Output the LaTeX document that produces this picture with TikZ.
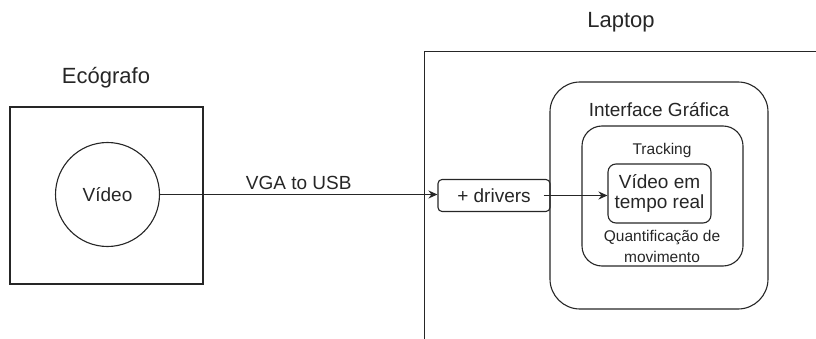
\documentclass[tikz,border=0pt]{standalone}
\usepackage{fontspec}
\setmainfont{Liberation Sans}
\usetikzlibrary{arrows.meta,positioning}
\tikzset{
  line/.style={draw=black!85, line width=1.1pt},
  bigtxt/.style={font=\fontsize{22}{26}\selectfont, text=black!85},
  midtxt/.style={font=\fontsize{19}{20}\selectfont, text=black!85, align=center},
  smalltxt/.style={font=\fontsize{15.5}{21}\selectfont, text=black!85, align=center},
  conn/.style={line, -{Stealth[length=9pt,width=8pt]}},
}
\begin{document}
\begin{tikzpicture}[x=1pt,y=-1pt]
\useasboundingbox (0,0) rectangle (816,339);
\clip (0,0) rectangle (816,339);
% Ecografo
\node[line, rectangle, minimum width=193pt, minimum height=177pt, inner sep=0pt] (eco) at (106.5,195.5) {};
\node[bigtxt] (ecolbl) at (106,78) {Ecógrafo};
\node[line, circle, minimum size=104pt, inner sep=0pt, midtxt] (vid) at (107.5,194.5) {Vídeo};
% Laptop
\node[line, rectangle, minimum width=420pt, minimum height=320pt, inner sep=0pt, anchor=north west] (laptop) at (423.5,51) {};
\node[bigtxt] (laplbl) at (621,22) {Laptop};
% drivers
\node[line, rectangle, rounded corners=4pt, minimum width=112pt, minimum height=32pt, inner sep=0pt, midtxt] (drv) at (494,195.5) {+ drivers};
% interface
\node[line, rectangle, rounded corners=30pt, minimum width=218pt, minimum height=227pt, inner sep=0pt] (gui) at (659,195.5) {};
\node[midtxt] (guilbl) at (659,110) {Interface Gráfica};
\node[line, rectangle, rounded corners=20pt, minimum width=161pt, minimum height=140pt, inner sep=0pt] (trk) at (662.5,196) {};
\node[smalltxt] (trklbl) at (662,150) {Tracking};
\node[line, rectangle, rounded corners=8pt, minimum width=103pt, minimum height=59pt, inner sep=0pt, midtxt] (vrt) at (659.5,193.5) {Vídeo em\\tempo real};
\node[smalltxt] (qlbl) at (662,246) {Quantificação de\\movimento};
% connectors
\draw[conn] (vid.east) -- node[midtxt, above=1pt] (usb) {VGA to USB} (vid.east -| drv.west);
\draw[conn] ([xshift=-7pt]drv.east) -- (vrt.west |- drv.east);
\end{tikzpicture}
\end{document}
